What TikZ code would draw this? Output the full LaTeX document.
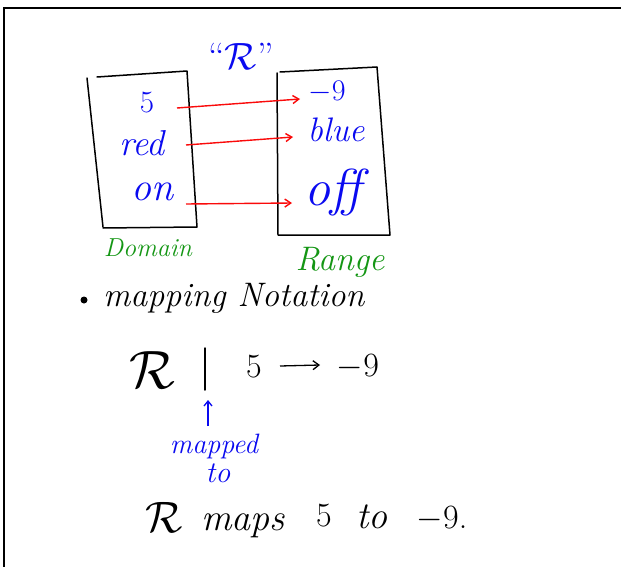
\RequirePackage{fix-cm}
\documentclass[tikz,border=0pt]{standalone}
\usepackage{fontspec}
\setmainfont{Latin Modern Roman}
\usetikzlibrary{arrows.meta}
\definecolor{inkblue}{RGB}{10,10,240}
\definecolor{inkgreen}{RGB}{20,150,20}
\definecolor{inkred}{RGB}{250,10,10}
\newcommand{\fsz}[1]{\fontsize{#1}{#1}\selectfont}
\tikzset{
  pen/.style={line width=1.5pt, line cap=round, line join=round},
  bluetxt/.style={text=inkblue, inner sep=1pt},
  greentxt/.style={text=inkgreen, inner sep=1pt},
  blacktxt/.style={text=black, inner sep=1pt},
  redarrow/.style={draw=inkred, line width=1.4pt, -{Straight Barb[length=6pt,width=8pt]}},
}
\begin{document}
\begin{tikzpicture}[x=1pt,y=-1pt]
\useasboundingbox (0,0) rectangle (621,567);
% frame
\draw[line width=2pt] (3.5,567) -- (3.5,8.5) -- (621,8.5);
% title
\node[bluetxt, font=\fsz{38}, anchor=base] (title) at (241,70) {``$\mathcal{R}$''};
% domain box
\draw[pen] (87,78) -- (103,227);
\draw[pen] (97,77) -- (187,71) -- (197,227) -- (103,228);
% range box
\draw[pen] (277,73) -- (278,235) -- (390,235) -- (377,67) -- (280,72);
% domain items
\node[bluetxt, font=\fsz{31}] (d1) at (147,103) {5};
\node[bluetxt, font=\itshape\fsz{36}] (d2) at (142,143) {red};
\node[bluetxt, font=\itshape\fsz{40}] (d3) at (152,192) {on};
% range items
\node[bluetxt, font=\fsz{30}] (r1) at (327,92) {$-$9};
\node[bluetxt, font=\itshape\fsz{34}] (r2) at (336,130) {blue};
\node[bluetxt, font=\itshape\fsz{52}] (r3) at (333,192) {off};
% arrows
\coordinate (a1s) at (177,108); \coordinate (a1e) at (300,99);
\coordinate (a2s) at (186,145); \coordinate (a2e) at (293,137);
\coordinate (a3s) at (186,204); \coordinate (a3e) at (292,203);
\draw[redarrow] (a1s) -- (a1e);
\draw[redarrow] (a2s) -- (a2e);
\draw[redarrow] (a3s) -- (a3e);
% labels
\node[greentxt, font=\itshape\fsz{26}] (dom) at (148,248) {Domain};
\node[greentxt, font=\itshape\fsz{34}] (rng) at (340,262) {Range};
% mapping notation
\fill (84,300) circle (3.5);
\node[blacktxt, font=\itshape\fsz{34}, anchor=west] (mn) at (102,298) {mapping Notation};
\node[blacktxt, font=\fsz{54}, anchor=base] (R) at (152,388) {$\mathcal{R}$};
\coordinate (bar1) at (205,348); \coordinate (bar2) at (205,390);
\draw[pen] (bar1) -- (bar2);
\node[blacktxt, font=\fsz{34}, anchor=base] (five) at (254,377) {5};
\node[blacktxt, font=\fsz{34}, anchor=base] (m9) at (358,376) {$-$9};
\coordinate (ar1) at (280,366); \coordinate (ar2) at (320,365);
\draw[line width=1.3pt, -{Straight Barb[length=6pt,width=9pt]}] (ar1) -- (ar2);
% mapped to
\coordinate (up1) at (208,426); \coordinate (up2) at (208,400);
\draw[draw=inkblue, line width=1.3pt, -{Straight Barb[length=5pt,width=8pt]}] (up1) -- (up2);
\node[bluetxt, font=\itshape\fsz{28}] (mapped) at (214,446) {mapped};
\node[bluetxt, font=\itshape\fsz{30}] (to) at (218,473) {to};
% sentence
\node[blacktxt, font=\fsz{44}, anchor=base] (sR) at (164,532) {$\mathcal{R}$};
\node[blacktxt, font=\itshape\fsz{38}, anchor=base] (smaps) at (243,530) {maps};
\node[blacktxt, font=\fsz{34}, anchor=base] (s5) at (324,526) {5};
\node[blacktxt, font=\itshape\fsz{38}, anchor=base] (sto) at (372,528) {to};
\node[blacktxt, font=\fsz{34}, anchor=base] (s9) at (442,528) {$-$9.};
\end{tikzpicture}
\end{document}
